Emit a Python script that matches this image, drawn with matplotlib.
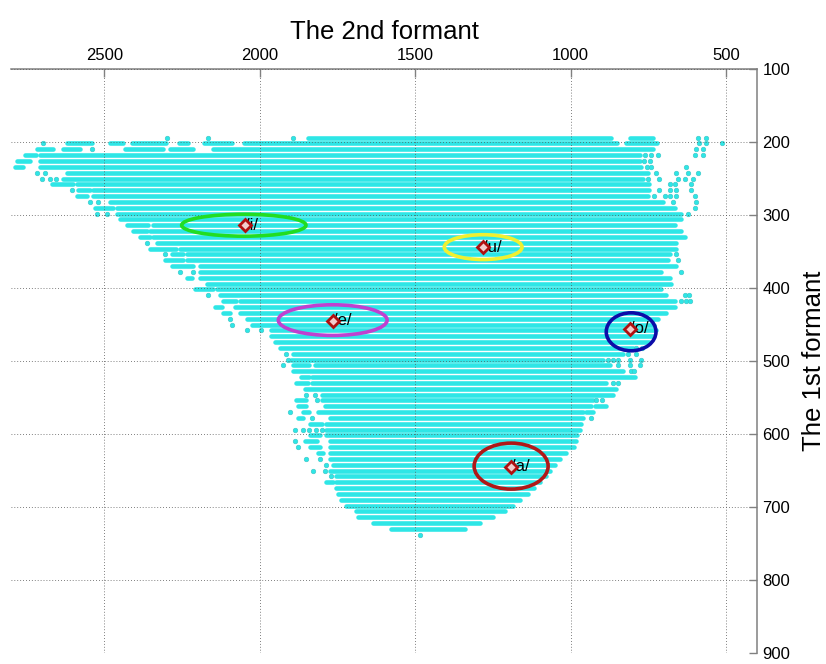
import numpy as np
import matplotlib.pyplot as plt
from matplotlib.patches import Ellipse

plt.rcParams['font.family'] = ['Liberation Sans', 'DejaVu Sans']

# each row of measured points: F1 (Hz) and the F2 span it covers (Hz)
row_f1 = [194, 202, 210, 218, 226, 234, 242, 250, 258, 266, 274, 282,
          290, 298, 306, 314, 322, 330, 338, 346, 354, 362, 370, 378,
          386, 394, 402, 410, 418, 426, 434, 442, 450, 458, 466, 474,
          482, 490, 498, 506, 514, 522, 530, 538, 546, 554, 562, 570,
          578, 586, 594, 602, 610, 618, 626, 634, 642, 650, 658, 666,
          674, 682, 690, 698, 706, 714, 722, 730]
row_f2_left = [1845, 2050, 2150, 2707, 2707, 2707, 2620, 2633, 2588, 2536, 2536, 2482,
               2459, 2459, 2450, 2343, 2353, 2343, 2331, 2257, 2234, 2234, 2192, 2192,
               2192, 2170, 2138, 2128, 2064, 2080, 2064, 2041, 2025, 1965, 1965, 1951,
               1935, 1892, 1898, 1823, 1892, 1833, 1833, 1855, 1801, 1801, 1791, 1812,
               1775, 1785, 1785, 1785, 1775, 1775, 1775, 1775, 1764, 1775, 1753, 1753,
               1753, 1748, 1737, 1721, 1689, 1683, 1635, 1576]
row_f2_right = [869, 849, 735, 778, 778, 772, 751, 767, 746, 746, 751, 703,
                665, 644, 644, 665, 644, 633, 660, 660, 681, 687, 660, 708,
                681, 676, 708, 692, 665, 665, 692, 719, 730, 724, 735, 746,
                799, 831, 896, 874, 831, 794, 885, 853, 864, 928, 933, 960,
                960, 965, 970, 978, 982, 990, 1014, 1035, 1051, 1067, 1078, 1099,
                1116, 1137, 1164, 1185, 1212, 1250, 1292, 1341]

# broken pieces of rows along the edge of the cloud
piece_f1 = [194, 202, 202, 202, 202, 202, 202, 210, 210, 210, 210, 218, 226, 234,
            258, 266, 274, 290, 314, 322, 330, 346, 354, 362, 370, 386, 402, 418,
            426, 434, 506, 522, 530, 554, 562, 562, 570, 570, 578, 586, 602, 610,
            618, 626, 666]
piece_left = [810, 2620, 2480, 2410, 2260, 2180, 820, 2716, 2633, 2433, 2289, 2755, 2780, 2787,
              2668, 2585, 2588, 2530, 2427, 2408, 2385, 2353, 2282, 2305, 2282, 2234, 2208, 2118,
              2144, 2118, 1892, 1866, 1882, 1882, 1876, 922, 1860, 949, 1876, 1839, 1839, 1855,
              1839, 1812, 1785]
piece_right = [735, 2540, 2440, 2300, 2230, 2090, 723, 2665, 2578, 2311, 2215, 2720, 2740, 2760,
               2601, 2546, 2556, 2472, 2360, 2363, 2353, 2270, 2247, 2247, 2215, 2218, 2150, 2075,
               2122, 2096, 1840, 1840, 1845, 1850, 1850, 885, 1840, 928, 1860, 1800, 1807, 1817,
               1807, 1796, 1764]

# lone points
dot_f1 = [194, 194, 194, 194, 194,
          202, 202, 202, 202,
          210, 210, 210,
          218, 218, 218, 218, 218,
          226, 226,
          234, 234, 234,
          242, 242, 242, 242, 242, 242,
          250, 250, 250, 250, 250, 250, 250, 250,
          258, 258, 258,
          266, 266, 266, 266, 266,
          274, 274, 274, 274, 274,
          282, 282, 282, 282,
          290, 298, 298, 298, 338, 354, 354, 362,
          378, 378, 378, 410, 410, 410, 418, 418, 418,
          442, 450, 458, 458, 482, 482, 490, 490, 490,
          498, 498, 498, 498, 498, 498,
          506, 506, 506, 506, 514, 514, 530, 530,
          546, 546, 554, 554, 554, 570, 578, 578,
          594, 594, 594, 594, 594, 610, 618, 634, 634,
          642, 650, 650, 658, 738]
dot_f2 = [2298, 2167, 1893, 590, 565,
          2697, 585, 565, 514,
          2540, 596, 574,
          760, 740, 720, 600, 575,
          765, 745,
          755, 742, 628,
          2716, 2690, 724, 660, 622, 590,
          2700, 2675, 2655, 751, 714, 655, 633, 606,
          681, 665, 612,
          2604, 714, 681, 660, 612,
          730, 697, 680, 660, 601,
          2546, 2520, 670, 596,
          598, 2524, 2491, 622, 2363, 2305, 660, 655,
          2257, 2215, 644, 2167, 633, 620, 644, 630, 617,
          2096, 2090, 2040, 1995, 789, 770, 1914, 815, 789,
          1910, 880, 862, 848, 810, 773,
          1925, 848, 810, 775, 805, 795, 864, 847,
          1850, 1823, 1817, 918, 900, 1903, 1833, 933,
          1887, 1860, 1840, 1820, 1800, 1887, 1876, 1850, 1807,
          1785, 1828, 1790, 1769, 1485]

# vowel targets and their ellipses
vowels = ['/i/', '/u/', '/e/', '/o/', '/a/']
vowel_f2 = [2048, 1283, 1765, 810, 1193]
vowel_f1 = [314, 344, 445, 456, 645]
ell_f2 = [2051, 1281, 1765, 805, 1191]
ell_f1 = [314, 344, 444, 460, 644]
ell_w = [400, 250, 350, 160, 238]
ell_h = [30, 34, 42, 52, 63]
ell_colors = ['#22dd22', '#f0f030', '#c040d0', '#0c0ca8', '#b01818']

cyan = '#2ee6e6'

fig = plt.figure(figsize=(8.26, 6.64), dpi=100)
ax = fig.add_axes([11 / 826, 11 / 664, 746 / 826, 584 / 664])

ax.hlines(row_f1, row_f2_left, row_f2_right, colors=cyan, linewidth=3.3,
          capstyle='round', zorder=1)
ax.hlines(piece_f1, piece_left, piece_right, colors=cyan, linewidth=3.3,
          capstyle='round', zorder=1)
ax.scatter(dot_f2, dot_f1, s=11, color=cyan, edgecolors='#3cc4c4',
           linewidths=0.4, zorder=1)

for i in range(len(vowels)):
    ax.add_patch(Ellipse((ell_f2[i], ell_f1[i]), ell_w[i], ell_h[i],
                         fill=False, edgecolor=ell_colors[i], linewidth=2.6,
                         zorder=3))
    ax.text(vowel_f2[i], vowel_f1[i], vowels[i], ha='left', va='center',
            fontsize=12, zorder=5)
    ax.plot(vowel_f2[i], vowel_f1[i], marker='D', markersize=6,
            markerfacecolor='#f2cccc', markeredgecolor='#b01010',
            markeredgewidth=2, zorder=6)

ax.set_xlim(2800, 400)
ax.set_ylim(900, 100)
ax.set_xticks([2500, 2000, 1500, 1000, 500])
ax.set_yticks([100, 200, 300, 400, 500, 600, 700, 800, 900])

ax.xaxis.tick_top()
ax.xaxis.set_label_position('top')
ax.yaxis.tick_right()
ax.yaxis.set_label_position('right')
ax.spines['left'].set_visible(False)
ax.spines['bottom'].set_visible(False)
for side in ['top', 'right']:
    ax.spines[side].set_color('#808080')
    ax.spines[side].set_linewidth(1.1)
ax.tick_params(direction='in', length=6, width=1, color='#808080',
               labelsize=12, pad=4)

ax.set_axisbelow(False)
ax.grid(True, linestyle=(0, (1, 2.5)), color='#555555', linewidth=0.6)

ax.set_xlabel('The 2nd formant', fontsize=18.5, labelpad=7)
ax.set_ylabel('The 1st formant', fontsize=18.5, labelpad=8)

fig.savefig('out.png', dpi=100)
